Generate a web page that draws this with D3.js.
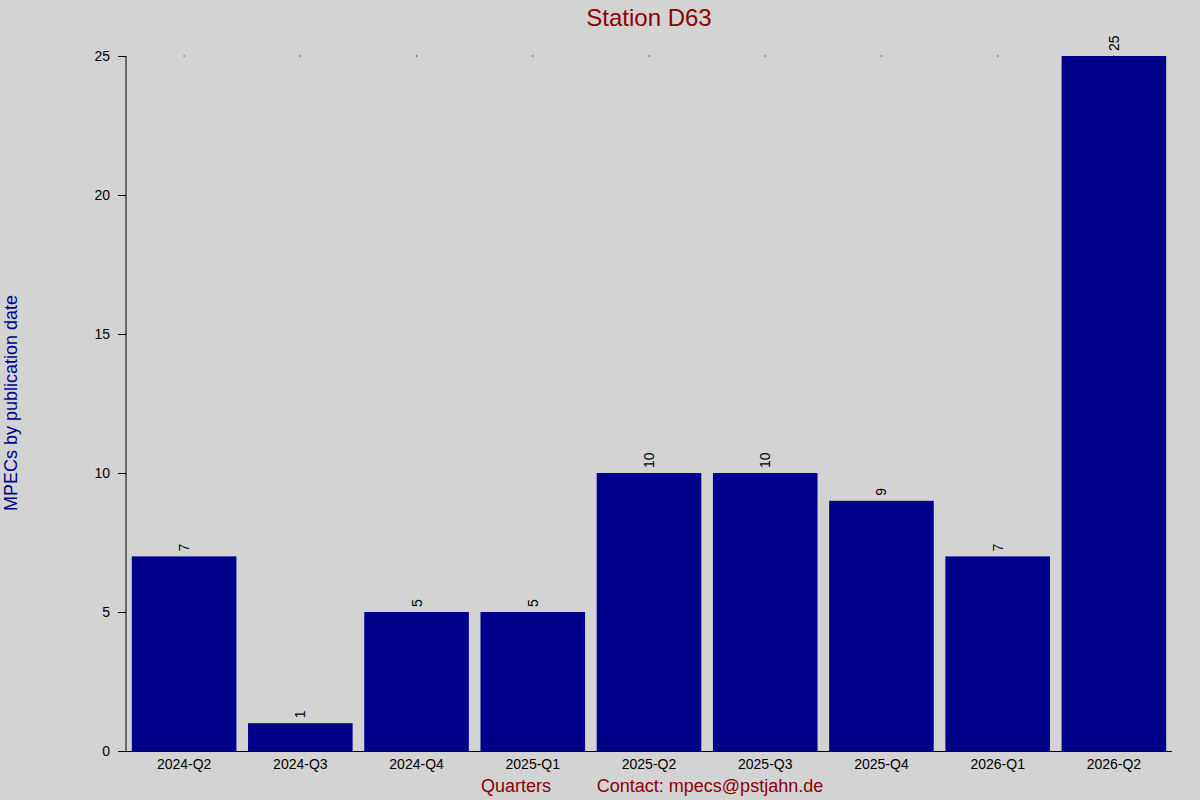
<!DOCTYPE html><html><head><script src="https://d3js.org/d3.v7.min.js"></script>
<style>body{margin:0;background:#d3d3d3}text{font-family:"Liberation Sans",Arial,sans-serif}</style></head><body>
<svg id="c" width="1200" height="800"></svg>
<script>
const categories=["2024-Q2","2024-Q3","2024-Q4","2025-Q1","2025-Q2","2025-Q3","2025-Q4","2026-Q1","2026-Q2"];
const values=[7,1,5,5,10,10,9,7,25];
const yTicks=[0,5,10,15,20,25];
const svg=d3.select("#c");
svg.append("rect").attr("width",1200).attr("height",800).attr("fill","#d3d3d3");
const x=d3.scaleBand().domain(categories).range([126,1172]).paddingInner(0.1).paddingOuter(0.05);
const y=d3.scaleLinear().domain([0,25]).range([751,56]);
svg.selectAll(".bar").data(values).join("rect").attr("x",(d,i)=>x(categories[i])).attr("width",x.bandwidth())
 .attr("y",d=>y(d)).attr("height",d=>y(0)-y(d)).attr("fill","#00008b");
svg.selectAll(".dot").data(categories).join("rect").attr("x",d=>x(d)+x.bandwidth()/2-0.5).attr("y",55.5).attr("width",1).attr("height",1).attr("fill","#000");
svg.selectAll(".vl").data(values).join("text").attr("transform",(d,i)=>`translate(${x(categories[i])+x.bandwidth()/2+5},${y(d)-5}) rotate(-90)`)
 .attr("font-size",14).attr("fill","#000").text(d=>d);
const ya=svg.append("g").attr("transform","translate(126,0)").call(d3.axisLeft(y).tickValues(yTicks).tickSize(8).tickPadding(8));
ya.select(".domain").attr("d","M0,56H0V751");
ya.selectAll("text").attr("font-size",14).attr("fill","#000").style("font-family","Liberation Sans, Arial, sans-serif");
const xa=svg.append("g").attr("transform","translate(0,751)").call(d3.axisBottom(x).tickSize(0).tickPadding(8));
xa.select(".domain").attr("d","M118,0.5H1172");
xa.selectAll("text").attr("font-size",14).attr("fill","#000").style("font-family","Liberation Sans, Arial, sans-serif");
svg.append("text").attr("x",649).attr("y",26).attr("text-anchor","middle").attr("font-size",24).attr("fill","#8b0000").text("Station D63");
svg.append("text").attr("transform","translate(17,403) rotate(-90)").attr("text-anchor","middle").attr("font-size",18).attr("fill","#00008b").text("MPECs by publication date");
svg.append("text").attr("x",516).attr("y",792).attr("text-anchor","middle").attr("font-size",18).attr("fill","#8b0000").text("Quarters");
svg.append("text").attr("x",710).attr("y",792).attr("text-anchor","middle").attr("font-size",18).attr("fill","#8b0000").text("Contact: mpecs@pstjahn.de");
</script></body></html>
